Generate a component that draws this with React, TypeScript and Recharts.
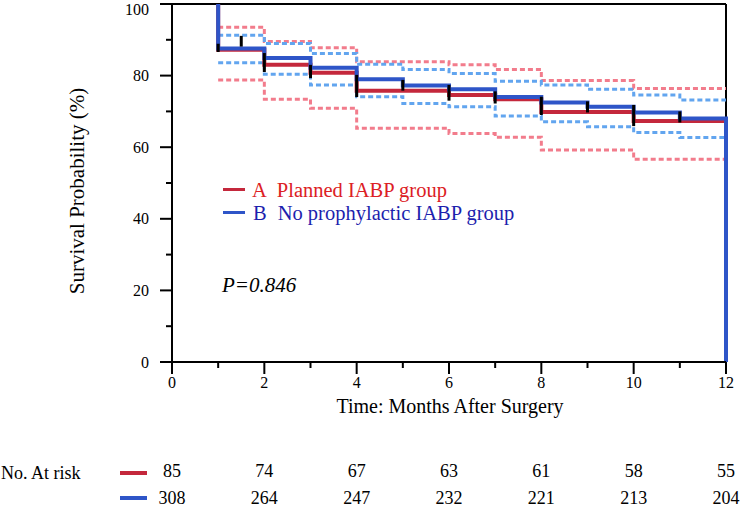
import React from 'react';
import { LineChart, Line, XAxis, YAxis, ReferenceLine } from 'recharts';

// ---- data ----
const months = [1, 1, 2, 3, 4, 5, 6, 7, 8, 9, 10, 11, 12];
const survA = [100, 87.2, 83.0, 80.8, 75.8, 75.8, 74.6, 73.4, 69.8, 69.8, 67.3, 67.3, 0];
const survB = [100, 87.6, 84.9, 82.2, 79.0, 77.2, 76.2, 74.0, 72.5, 71.3, 69.7, 68.0, 0];
const upperA = [null, 93.5, 89.5, 87.8, 83.9, 83.9, 83.0, 81.7, 78.6, 78.6, 76.4, 76.4, 76.4];
const lowerA = [null, 78.8, 73.4, 70.9, 65.3, 65.3, 63.8, 62.8, 59.2, 59.2, 56.6, 56.6, 56.6];
const upperB = [null, 91.3, 89.0, 86.2, 83.2, 81.7, 80.6, 78.4, 77.4, 76.2, 74.6, 73.2, 73.2];
const lowerB = [null, 83.6, 80.4, 77.4, 74.1, 72.2, 71.3, 68.7, 67.1, 65.7, 64.1, 62.7, 62.7];

const censorTimes = [1, 1.5, 2, 3, 4, 5, 6, 7, 8, 9, 10, 11];
const censorTop = [88.9, 91.1, 86.3, 83.0, 80.2, 78.8, 77.4, 75.6, 74.1, 72.8, 71.8, 70.0];
const censorBottom = [86.6, 88.1, 81.0, 79.3, 74.0, 75.8, 73.0, 72.2, 69.0, 69.7, 65.9, 66.9];

const xTicks = [0, 1, 2, 3, 4, 5, 6, 7, 8, 9, 10, 11, 12];
const yTicks = [0, 10, 20, 30, 40, 50, 60, 70, 80, 90, 100];

const riskTimes = [0, 2, 4, 6, 8, 10, 12];
const riskA = [85, 74, 67, 63, 61, 58, 55];
const riskB = [308, 264, 247, 232, 221, 213, 204];

const legendKeyA = 'A';
const legendA = 'Planned IABP group';
const legendKeyB = 'B';
const legendB = 'No prophylactic IABP group';
const pText = 'P=0.846';
const xTitle = 'Time: Months After Surgery';
const yTitle = 'Survival Probability (%)';
const riskTitle = 'No. At risk';

const data = months.map((t, i) => ({
  t,
  A: survA[i],
  B: survB[i],
  uA: upperA[i],
  lA: lowerA[i],
  uB: upperB[i],
  lB: lowerB[i],
}));

// ---- style ----
const FONT = '"Liberation Serif", serif';
const RED = '#c4283c';
const BLUE = '#2e55c8';
const RED_CI = '#f27c8c';
const BLUE_CI = '#62a5ef';
const W = 740;
const H = 508;
const PLOT_L = 172;
const PLOT_R = 726;
const PLOT_T = 4;
const PLOT_B = 362;
const TICK = 12;
const X_MARGIN = 3;
const Y_MARGIN = 11;

const XTick = (props: any) => {
  const { x, y, payload } = props;
  const v = payload.value;
  const major = v % 2 === 0;
  const axisY = y - TICK - X_MARGIN;
  return (
    <g>
      <line x1={x} x2={x} y1={axisY} y2={axisY + (major ? 12 : 6)} stroke="#000" strokeWidth={2} />
      {major && (
        <text x={x} y={y} dy="0.71em" textAnchor="middle" fontFamily={FONT} fontSize={16} fill="#000">
          {v}
        </text>
      )}
    </g>
  );
};

const YTick = (props: any) => {
  const { x, y, payload } = props;
  const v = payload.value;
  const major = v % 20 === 0;
  const axisX = x + TICK + Y_MARGIN;
  const shift = Math.max(0, 9 - y);
  return (
    <g>
      <line x1={axisX - (major ? 12 : 6)} x2={axisX} y1={y} y2={y} stroke="#000" strokeWidth={2} />
      {major && (
        <text x={x} y={y + shift} dy="0.35em" textAnchor="end" fontFamily={FONT} fontSize={16} fill="#000">
          {v}
        </text>
      )}
    </g>
  );
};

const xPos = (t: number) => PLOT_L + ((PLOT_R - PLOT_L) * t) / 12;

const textBase: React.CSSProperties = { position: 'absolute', fontFamily: FONT, whiteSpace: 'pre', color: '#000' };

export default function App() {
  return (
    <div style={{ position: 'absolute', left: 0, top: 0, width: W, height: H, background: '#fff', fontFamily: FONT }}>
      <LineChart width={W} height={H} data={data} margin={{ top: PLOT_T, right: W - PLOT_R, left: PLOT_L - 60, bottom: H - PLOT_B - 30 }}>
        <XAxis
          type="number"
          dataKey="t"
          domain={[0, 12]}
          ticks={xTicks}
          interval={0}
          height={30}
          tickSize={TICK}
          tickMargin={X_MARGIN}
          tickLine={false}
          tick={<XTick />}
          axisLine={{ stroke: '#000', strokeWidth: 2 }}
        />
        <YAxis
          type="number"
          domain={[0, 100]}
          ticks={yTicks}
          interval={0}
          width={60}
          tickSize={TICK}
          tickMargin={Y_MARGIN}
          tickLine={false}
          tick={<YTick />}
          axisLine={{ stroke: '#000', strokeWidth: 2 }}
        />
        <ReferenceLine y={100} stroke="#000" strokeWidth={2} />
        <ReferenceLine x={12} stroke="#000" strokeWidth={2} />
        <Line type="stepAfter" dataKey="uA" stroke={RED_CI} strokeWidth={3} strokeDasharray="5 3" dot={false} activeDot={false} isAnimationActive={false} />
        <Line type="stepAfter" dataKey="lA" stroke={RED_CI} strokeWidth={3} strokeDasharray="5 3" dot={false} activeDot={false} isAnimationActive={false} />
        <Line type="stepAfter" dataKey="uB" stroke={BLUE_CI} strokeWidth={3} strokeDasharray="5 3" dot={false} activeDot={false} isAnimationActive={false} />
        <Line type="stepAfter" dataKey="lB" stroke={BLUE_CI} strokeWidth={3} strokeDasharray="5 3" dot={false} activeDot={false} isAnimationActive={false} />
        <Line type="stepAfter" dataKey="A" stroke={RED} strokeWidth={4} dot={false} activeDot={false} isAnimationActive={false} />
        <Line type="stepAfter" dataKey="B" stroke={BLUE} strokeWidth={4} dot={false} activeDot={false} isAnimationActive={false} />
        {censorTimes.map((t, i) => (
          <ReferenceLine
            key={'c' + i}
            segment={[{ x: t, y: censorTop[i] }, { x: t, y: censorBottom[i] }]}
            stroke="#000"
            strokeWidth={3}
          />
        ))}
      </LineChart>

      {/* y title */}
      <div style={{ ...textBase, left: 77 - 160, top: 191 - 13, width: 320, height: 26, lineHeight: '26px', textAlign: 'center', fontSize: 21, transform: 'rotate(-90deg)' }}>
        {yTitle}
      </div>
      {/* x title */}
      <div style={{ ...textBase, left: 450 - 200, top: 406 - 13, width: 400, height: 26, lineHeight: '26px', textAlign: 'center', fontSize: 20 }}>
        {xTitle}
      </div>

      {/* legend */}
      <div style={{ position: 'absolute', left: 223, top: 188, width: 22, height: 3, background: RED }} />
      <div style={{ ...textBase, left: 252, top: 190 - 13, height: 26, lineHeight: '26px', fontSize: 20.5, color: '#dc2024' }}>
        <span>{legendKeyA}</span>
        <span style={{ marginLeft: 10 }}>{legendA}</span>
      </div>
      <div style={{ position: 'absolute', left: 223, top: 211, width: 22, height: 3, background: BLUE }} />
      <div style={{ ...textBase, left: 253, top: 213 - 13, height: 26, lineHeight: '26px', fontSize: 20.5, color: '#1d1fae' }}>
        <span>{legendKeyB}</span>
        <span style={{ marginLeft: 11 }}>{legendB}</span>
      </div>

      {/* p value */}
      <div style={{ ...textBase, left: 222, top: 285 - 13, height: 26, lineHeight: '26px', fontSize: 21, fontStyle: 'italic' }}>{pText}</div>

      {/* at risk */}
      <div style={{ ...textBase, left: 1, top: 473 - 11, height: 22, lineHeight: '22px', fontSize: 18 }}>{riskTitle}</div>
      <div style={{ position: 'absolute', left: 120, top: 471, width: 27, height: 4, background: RED }} />
      <div style={{ position: 'absolute', left: 120, top: 496, width: 27, height: 4, background: BLUE }} />
      {riskTimes.map((t, i) => (
        <div key={'ra' + i} style={{ ...textBase, left: xPos(t) - 30, top: 471 - 11, width: 60, height: 22, lineHeight: '22px', textAlign: 'center', fontSize: 18 }}>
          {riskA[i]}
        </div>
      ))}
      {riskTimes.map((t, i) => (
        <div key={'rb' + i} style={{ ...textBase, left: xPos(t) - 30, top: 498 - 11, width: 60, height: 22, lineHeight: '22px', textAlign: 'center', fontSize: 18 }}>
          {riskB[i]}
        </div>
      ))}
    </div>
  );
}
